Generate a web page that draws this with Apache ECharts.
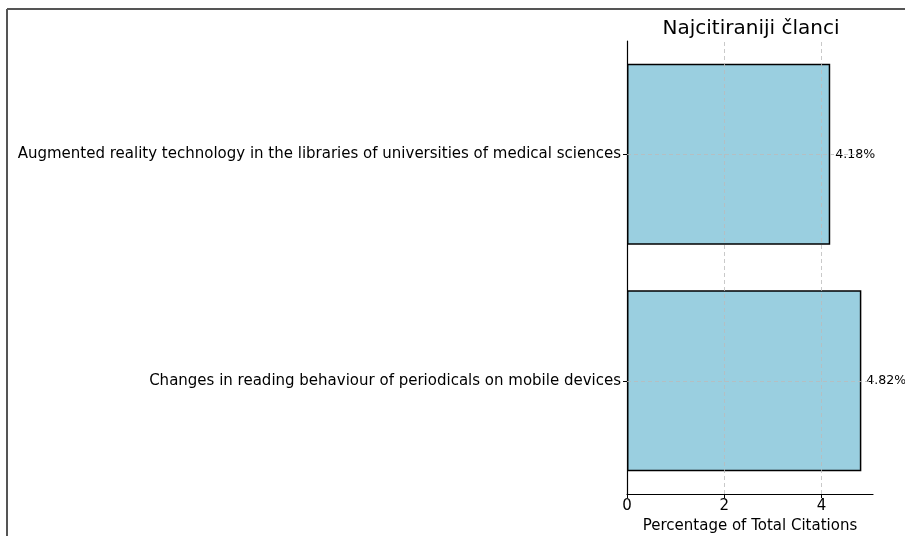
<!DOCTYPE html>
<html><head><meta charset="utf-8">
<script src="https://cdn.jsdelivr.net/npm/echarts@6/dist/echarts.min.js"></script>
<style>html,body{margin:0;padding:0;background:#fff}#c{width:905px;height:536px}</style>
</head><body><div id="c"></div>
<script>
const categories = [
  'Changes in reading behaviour of periodicals on mobile devices',
  'Augmented reality technology in the libraries of universities of medical sciences'
];
const values = [4.82, 4.18];
const xTicks = [0, 2, 4];
const titleText = 'Najcitiraniji članci';
const xName = 'Percentage of Total Citations';

const font = 'DejaVu Sans';
const chart = echarts.init(document.getElementById('c'), null, {renderer: 'canvas'});
const gridLines = xTicks.filter(v => v > 0).map(v => ({xAxis: v}))
  .concat(categories.map(c => ({yAxis: c})));
chart.setOption({
  animation: false,
  textStyle: {fontFamily: font},
  title: {
    text: titleText, left: 746, top: 14, textAlign: 'center',
    textStyle: {fontFamily: font, fontSize: 20, fontWeight: 'normal', color: '#000'}
  },
  graphic: [
    {type: 'line', shape: {x1: 7, y1: 9, x2: 905, y2: 9}, style: {stroke: '#555', lineWidth: 2}},
    {type: 'line', shape: {x1: 7, y1: 9, x2: 7, y2: 536}, style: {stroke: '#555', lineWidth: 2}}
  ],
  grid: {left: 627, top: 41, width: 246, height: 453, containLabel: false, outerBoundsMode: 'none'},
  xAxis: {
    type: 'value', min: 0, max: 5.06, interval: 2,
    name: xName, nameLocation: 'middle', nameGap: 24,
    nameTextStyle: {fontFamily: font, fontSize: 15, color: '#000'},
    axisLine: {show: true, lineStyle: {color: '#000', width: 1.2}},
    axisTick: {show: true, length: 4, lineStyle: {color: '#000'}},
    axisLabel: {fontFamily: font, fontSize: 15, color: '#000', margin: 5, showMaxLabel: false},
    splitLine: {show: false}
  },
  yAxis: {
    type: 'category', data: categories,
    axisLine: {show: true, lineStyle: {color: '#000', width: 1.2}},
    axisTick: {show: true, length: 4, alignWithLabel: true, lineStyle: {color: '#000'}},
    axisLabel: {fontFamily: font, fontSize: 15, color: '#000', margin: 6},
    splitLine: {show: false}
  },
  series: [{
    type: 'bar', data: values, barWidth: '80%',
    itemStyle: {color: '#9ACFE0', borderColor: '#000', borderWidth: 1.5},
    label: {show: true, position: 'right', distance: 5, formatter: p => p.value.toFixed(2) + '%',
      fontFamily: font, fontSize: 12.6, color: '#000'},
    markLine: {
      silent: true, symbol: 'none', animation: false,
      label: {show: false},
      lineStyle: {type: [4, 3], color: '#bbb', width: 0.8},
      data: gridLines
    }
  }]
});
</script></body></html>
